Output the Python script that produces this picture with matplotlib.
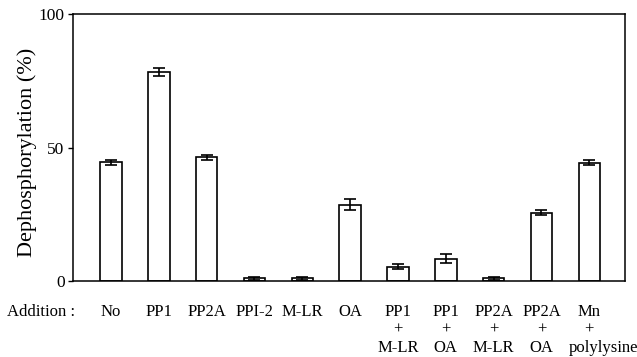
import matplotlib
matplotlib.use("Agg")
import matplotlib.pyplot as plt
import numpy as np

categories = [["No"], ["PP1"], ["PP2A"], ["PPI-2"], ["M-LR"], ["OA"],
              ["PP1", "+", "M-LR"], ["PP1", "+", "OA"], ["PP2A", "+", "M-LR"],
              ["PP2A", "+", "OA"], ["Mn", "+", "polylysine"]]
values = [44.4, 78.3, 46.3, 1.0, 1.0, 28.6, 5.4, 8.4, 1.0, 25.6, 44.3]
errors = [1.1, 1.4, 1.0, 0.5, 0.5, 2.0, 1.0, 1.6, 0.5, 1.0, 1.0]
yticks = [0, 50, 100]

plt.rcParams['font.family'] = ['Liberation Serif', 'DejaVu Serif']

fig = plt.figure(figsize=(6.37, 3.57), dpi=100)
ax = fig.add_axes([73/637, 1 - 281/357, (625-73)/637, (281-14)/357])

x = np.arange(len(categories))
ax.bar(x, values, width=0.45, color='white', edgecolor='black', linewidth=1.2,
       yerr=errors, error_kw=dict(ecolor='black', elinewidth=1.2, capsize=4.3, capthick=1.2))

ax.set_xlim(-0.795, 10.747)
ax.set_ylim(0, 100)
ax.set_yticks(yticks)
ax.set_yticklabels([str(t) for t in yticks], fontsize=12.5)
ax.tick_params(axis='y', direction='out', length=3.6, width=1, pad=2.5)
ax.set_xticks([])
for s in ax.spines.values():
    s.set_linewidth(1.1)
ax.set_ylabel("Dephosphorylation (%)", fontsize=16)
ax.yaxis.set_label_coords((37 - 73) / 552, 0.48)

fs = 12
line_offsets = [35, 53, 71]  # pixels below axis bottom (baselines)
for i, parts in enumerate(categories):
    for j, p in enumerate(parts):
        ha = 'center'
        dx = 0
        if p == "polylysine":
            ha = 'left'
            dx = -21 * 72 / 100
        ax.annotate(p, xy=(x[i], 0), xycoords=('data', 'axes fraction'),
                    xytext=(dx, -line_offsets[j] * 72 / 100), textcoords='offset points',
                    ha=ha, va='baseline', fontsize=fs, annotation_clip=False)

fig.text(7/637, 1 - 316/357, "Addition :", fontsize=fs, va='baseline', ha='left')

fig.savefig("out.png", dpi=100)
